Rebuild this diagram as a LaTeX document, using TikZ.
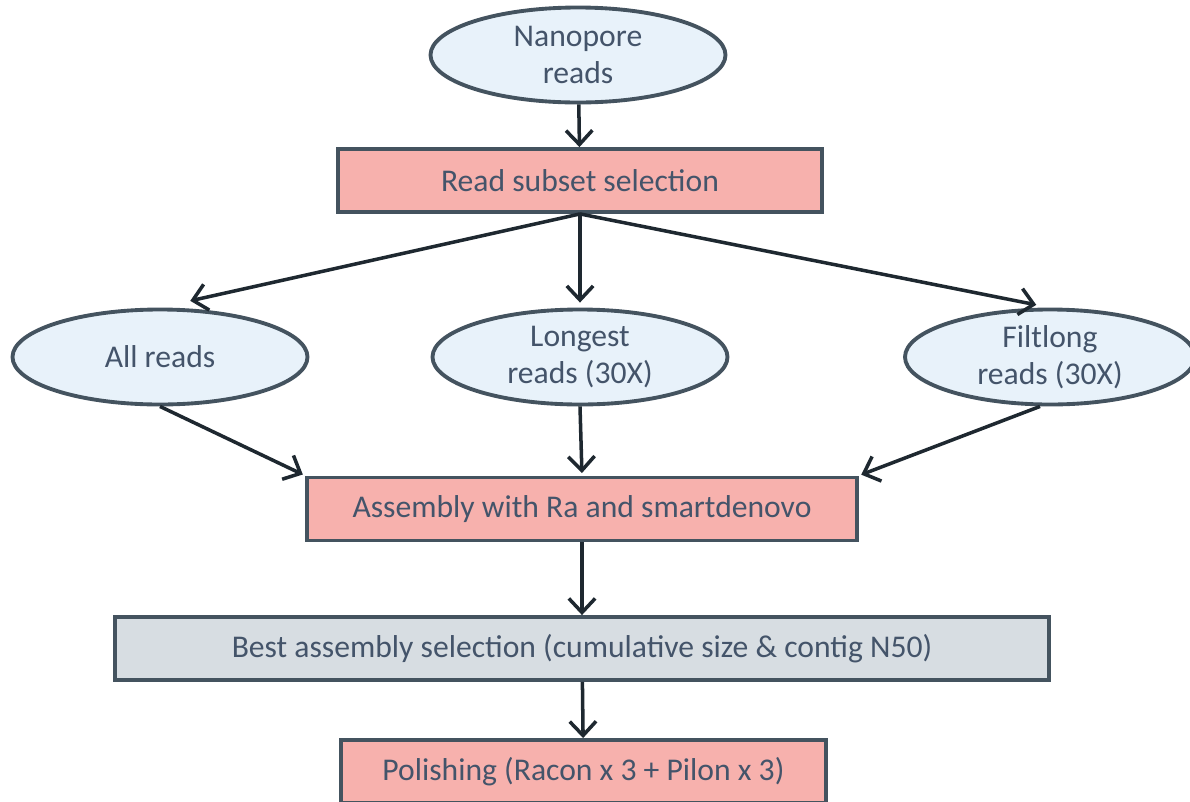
\documentclass[tikz,border=0pt]{standalone}
\usepackage{fontspec}
\setmainfont{Carlito}
\usetikzlibrary{shapes.geometric,arrows.meta,positioning}
\definecolor{edge}{HTML}{44535F}
\definecolor{txt}{HTML}{44546A}
\definecolor{wire}{HTML}{1E2830}
\definecolor{blue}{HTML}{E8F2FA}
\definecolor{pink}{HTML}{F7B1AD}
\definecolor{grey}{HTML}{D7DDE2}

\begin{document}
\begin{tikzpicture}[
    font=\fontsize{18}{21}\selectfont, text=txt,
    readset/.style={ellipse,draw=edge,line width=2.2pt,fill=blue,
      minimum width=5.9cm,minimum height=1.9cm,align=center,inner sep=0pt},
    stepbox/.style={rectangle,draw=edge,line width=2.2pt,fill=pink,
      minimum height=1.26cm,inner sep=0pt},
    flow/.style={draw=wire,line width=2pt,-{Straight Barb[length=8pt,width=15pt]}}]
    \useasboundingbox (0,0) rectangle (23.8,-16.04);

    \node[readset] (nano) at (11.56,-1.10) {Nanopore\\reads};
    \node[stepbox,minimum width=9.68cm] (subset) at (11.6,-3.61) {Read subset selection};

    \node[readset] (allr) at (3.2,-7.14) {All reads};
    \node[readset] (longest) at (11.6,-7.14) {Longest\\reads (30X)};
    \node[readset,minimum width=5.8cm] (filt) at (21.0,-7.14) {Filtlong\\reads (30X)};

    \node[stepbox,minimum width=11cm] (asm) at (11.64,-10.18) {Assembly with Ra and smartdenovo};
    \node[stepbox,fill=grey,minimum width=18.68cm] (best) at (11.64,-12.97)
      {Best assembly selection (cumulative size \& contig N50)};
    \node[stepbox,minimum width=9.7cm] (pol) at (11.67,-15.43) {Polishing (Racon x 3 + Pilon x 3)};

    \draw[flow] (nano) -- (subset);
    \draw[flow,shorten >=0.62cm] (subset.south) -- (allr.north);
    \draw[flow,shorten >=0.1cm] (subset.south) -- (longest.north);
    \draw[flow,shorten >=0.28cm] (subset.south) -- (filt.north);

    \draw[flow,shorten >=0.05cm] (allr.south) -- (asm.north west);
    \draw[flow,shorten >=0.05cm] (longest.south) -- (asm.north);
    \draw[flow,shorten >=0.05cm] ([xshift=-0.2cm]filt.south) -- (asm.north east);

    \draw[flow] (asm) -- (best);
    \draw[flow] (best) -- (pol);
\end{tikzpicture}
\end{document}
